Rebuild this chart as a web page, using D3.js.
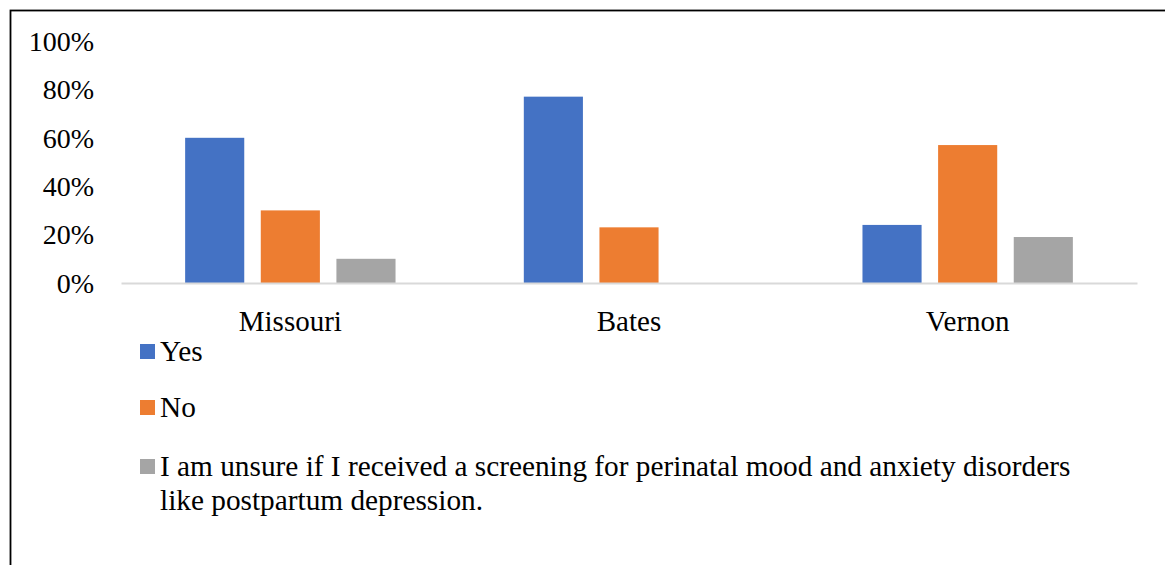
<!DOCTYPE html>
<html>
<head>
<meta charset="utf-8">
<script src="https://cdn.jsdelivr.net/npm/d3@7"></script>
<style>
  html, body { margin: 0; padding: 0; background: #fff; }
  svg { display: block; }
  svg text { font-family: "Liberation Serif", Tinos, "Times New Roman", Times, serif; fill: #000; }
</style>
</head>
<body>
<svg id="chart" width="1165" height="565"></svg>
<script>
// Survey responses by location
const categories = ["Missouri", "Bates", "Vernon"];
const seriesNames = [
  "Yes",
  "No",
  "I am unsure if I received a screening for perinatal mood and anxiety disorders like postpartum depression."
];
const legendLines = [
  ["Yes"],
  ["No"],
  ["I am unsure if I received a screening for perinatal mood and anxiety disorders", "like postpartum depression."]
];
const yesValues = [0.60, 0.77, 0.24];
const noValues = [0.30, 0.23, 0.57];
const unsureValues = [0.10, 0.00, 0.19];
const tickValues = [0, 0.2, 0.4, 0.6, 0.8, 1.0];
const colors = ["#4472C4", "#ED7D31", "#A5A5A5"];

const series = [yesValues, noValues, unsureValues];
const rows = categories.map((c, i) => ({
  category: c,
  values: series.map((s, j) => ({ key: seriesNames[j], value: s[i], idx: j }))
}));

const svg = d3.select("#chart");
const FONT = "'Liberation Serif', Tinos, 'Times New Roman', Times, serif";

// outer frame
svg.append("rect")
  .attr("x", 10.5).attr("y", 10.5)
  .attr("width", 1200).attr("height", 600)
  .attr("fill", "none").attr("stroke", "#000").attr("stroke-width", 1.8);

const plot = { left: 121, right: 1137, top: 41, bottom: 283 };

const x0 = d3.scaleBand().domain(categories).range([plot.left, plot.right]).padding(0);
const x1 = d3.scaleBand().domain(seriesNames).range([0, x0.bandwidth()])
  .paddingInner(0.2185).paddingOuter(0.848);
const y = d3.scaleLinear().domain([0, 1]).range([plot.bottom, plot.top]);

// y axis labels
const yAxis = d3.axisLeft(y).tickValues(tickValues).tickFormat(d3.format(".0%")).tickSize(0).tickPadding(0);
const yg = svg.append("g").attr("transform", "translate(94,0)").call(yAxis)
  .attr("font-family", FONT).attr("font-size", 28);
yg.select(".domain").remove();
yg.selectAll("text")
  .attr("fill", "#000")
  .attr("dy", "0.33em");

// bars
const groups = svg.append("g").selectAll("g")
  .data(rows).join("g")
  .attr("transform", d => `translate(${x0(d.category)},0)`);

groups.selectAll("rect")
  .data(d => d.values.filter(v => v.value > 0))
  .join("rect")
  .attr("x", d => x1(d.key))
  .attr("width", x1.bandwidth())
  .attr("y", d => y(d.value))
  .attr("height", d => y(0) - y(d.value))
  .attr("fill", d => colors[d.idx]);

// category axis
const xAxis = d3.axisBottom(x0).tickSize(0).tickPadding(0);
const xg = svg.append("g").attr("transform", `translate(0,${plot.bottom})`).call(xAxis)
  .attr("font-family", FONT).attr("font-size", 29);
xg.select(".domain").attr("stroke", "#d9d9d9").attr("stroke-width", 2);
xg.selectAll("text")
  .attr("fill", "#000")
  .attr("y", 48)
  .attr("dy", 0);

// legend
const legendBaselines = [361, 417, 476];
const legend = svg.append("g").attr("font-family", FONT).attr("font-size", 29.3);
legendLines.forEach((lines, i) => {
  legend.append("rect")
    .attr("x", 140).attr("y", legendBaselines[i] - 17)
    .attr("width", 15).attr("height", 15)
    .attr("fill", colors[i]);
  const t = legend.append("text")
    .attr("x", 160).attr("y", legendBaselines[i]);
  lines.forEach((ln, k) => {
    t.append("tspan").attr("x", 160).attr("dy", k === 0 ? 0 : 34).text(ln);
  });
});
</script>
</body>
</html>
